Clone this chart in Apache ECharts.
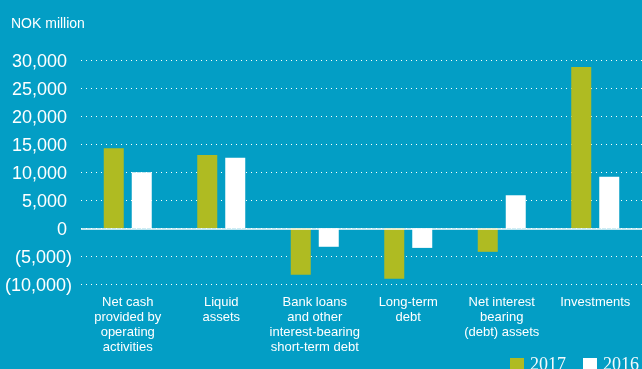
<!DOCTYPE html>
<html><head><meta charset="utf-8">
<script src="https://cdn.jsdelivr.net/npm/echarts@6/dist/echarts.min.js"></script>
<style>html,body{margin:0;padding:0;background:#039ec5;}#c{width:642px;height:369px;}</style>
</head><body><div id="c"></div>
<script>
var categories = ["Net cash\nprovided by\noperating\nactivities", "Liquid\nassets", "Bank loans\nand other\ninterest-bearing\nshort-term debt", "Long-term\ndebt", "Net interest\nbearing\n(debt) assets", "Investments"];
var values2017 = [14300, 13100, -8300, -9000, -4200, 28800];
var values2016 = [10000, 12600, -3300, -3500, 5900, 9200];
var seriesNames = ["2017", "2016"];
var unitTitle = "NOK million";

function fmt(v){
  var s = Math.abs(v).toLocaleString('en-US');
  return v < 0 ? '{n|(' + s + ')}' : '{p|' + s + '}';
}
var chart = echarts.init(document.getElementById('c'));
chart.setOption({
  backgroundColor: '#039ec5',
  animation: false,
  title: { text: unitTitle, left: 6, top: 12, textStyle: { color: '#fff', fontSize: 14, fontWeight: 'normal', fontFamily: 'Liberation Sans' } },
  legend: {
    right: -2, top: 351, itemWidth: 14, itemHeight: 14, itemGap: 17,
    icon: 'rect',
    textStyle: { color: '#f4fafc', fontSize: 18, lineHeight: 14, fontFamily: 'Liberation Serif', padding: [0, 0, 0, 1] },
    data: seriesNames
  },
  grid: { left: 81, right: 0, top: 60.3, bottom: 84.7 },
  xAxis: {
    type: 'category', data: categories,
    axisLine: { show: false, onZero: false }, axisTick: { show: false },
    axisLabel: { interval: 0, margin: 11, color: '#fff', fontSize: 13, lineHeight: 14.8, fontFamily: 'Liberation Sans' }
  },
  yAxis: {
    type: 'value', min: -10000, max: 30000, interval: 5000,
    axisLine: { show: false }, axisTick: { show: false },
    splitLine: { lineStyle: { color: '#fff', type: [1, 4], width: 1 } },
    axisLabel: {
      margin: 9, color: '#fff', fontSize: 18, fontFamily: 'Liberation Sans',
      formatter: fmt,
      rich: { p: { fontSize: 18, color: '#fff', padding: [4, 5, 0, 0], fontFamily: 'Liberation Sans' }, n: { fontSize: 18, color: '#fff', padding: [4, 0, 0, 0], fontFamily: 'Liberation Sans' } }
    }
  },
  series: [
    { name: seriesNames[0], type: 'bar', data: values2017, barWidth: 20, barGap: '40%', itemStyle: { color: '#afbb22' },
      markLine: { silent: true, symbol: 'none', label: { show: false }, lineStyle: { color: '#fff', type: 'solid', width: 1.5 }, data: [{ yAxis: 0 }] } },
    { name: seriesNames[1], type: 'bar', data: values2016, barWidth: 20, barGap: '40%', itemStyle: { color: '#ffffff' } }
  ]
});
</script></body></html>
